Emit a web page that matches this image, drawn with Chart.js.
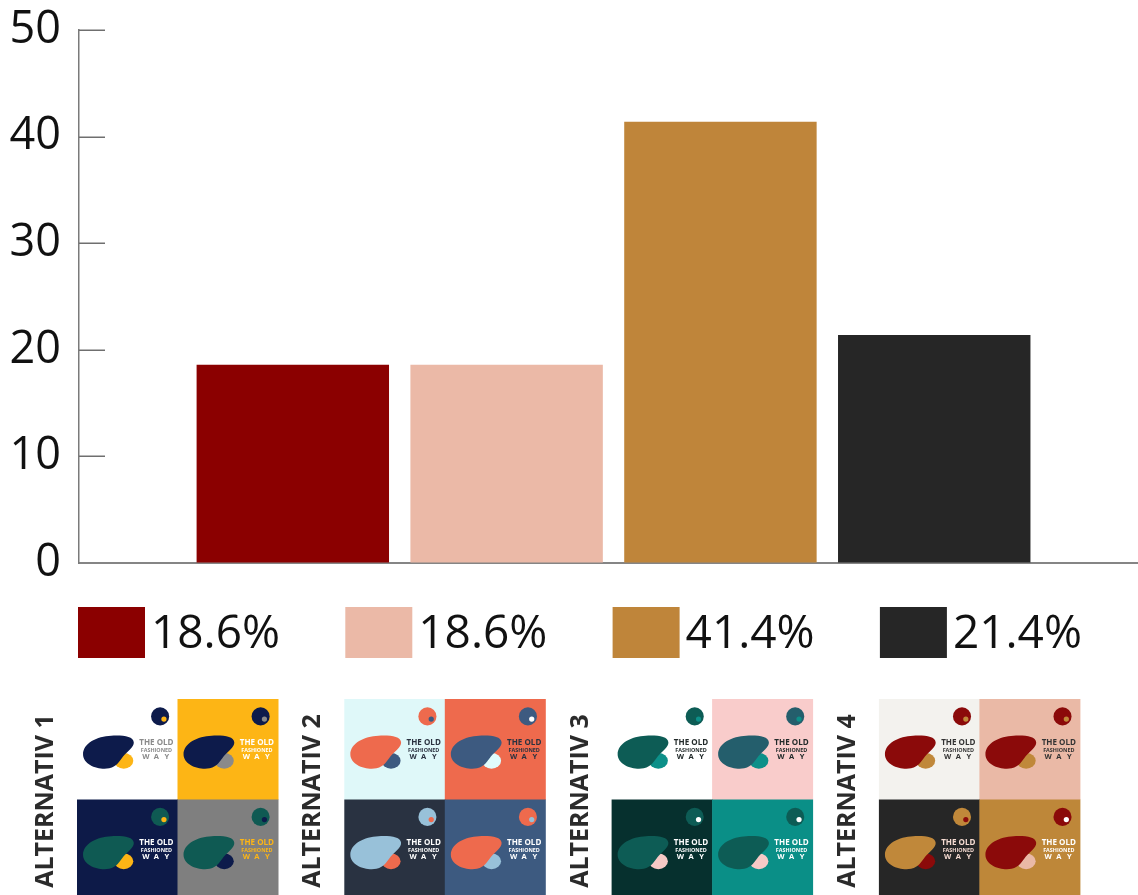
<!DOCTYPE html>
<html>
<head>
<meta charset="utf-8">
<title>Alternativ – fördelning</title>
<script src="https://cdn.jsdelivr.net/npm/chart.js@4.4.1/dist/chart.umd.min.js"></script>
<style>
  html, body { margin: 0; padding: 0; background: #ffffff; }
  #wrap { width: 1138px; height: 895px; position: relative; overflow: hidden; }
  canvas { display: block; }
</style>
</head>
<body>
<div id="wrap"><canvas id="chart" width="1138" height="895"></canvas></div>
<script>
// ---- data ----
const categories = ['ALTERNATIV 1', 'ALTERNATIV 2', 'ALTERNATIV 3', 'ALTERNATIV 4'];
const shares = [18.6, 18.6, 41.4, 21.4];
const barColors = ['#8B0000', '#EBB9A7', '#BF853A', '#262626'];
const yTickValues = [0, 10, 20, 30, 40, 50];
const legendLabels = shares.map(v => v.toFixed(1) + '%');

// colour sets of the four logo variants (top-left, top-right, bottom-left, bottom-right)
const logoAlt1 = [
  { bg: '#FFFFFF', big: '#0D1B4B', small: '#FDB515', ring: '#0D1B4B', dot: '#FDB515', text: '#8A8A8A' },
  { bg: '#FDB515', big: '#0D1B4B', small: '#8A8A8A', ring: '#0D1B4B', dot: '#8A8A8A', text: '#FFFFFF' },
  { bg: '#0D1A48', big: '#0F5A53', small: '#FDB515', ring: '#0F5A53', dot: '#FDB515', text: '#FFFFFF' },
  { bg: '#7F7F7F', big: '#0F5A53', small: '#0D1B4B', ring: '#0F5A53', dot: '#0D1B4B', text: '#FDB515' }
];
const logoAlt2 = [
  { bg: '#DFF8F9', big: '#EE6A4D', small: '#3D5A80', ring: '#EE6A4D', dot: '#3D5A80', text: '#2A3240' },
  { bg: '#EE6A4D', big: '#3D5A80', small: '#E0FBFC', ring: '#3D5A80', dot: '#FFFFFF', text: '#2A3240' },
  { bg: '#293241', big: '#98C1D9', small: '#EE6A4D', ring: '#98C1D9', dot: '#EE6A4D', text: '#FFFFFF' },
  { bg: '#3D5A80', big: '#EE6A4D', small: '#98C1D9', ring: '#EE6A4D', dot: '#98C1D9', text: '#FFFFFF' }
];
const logoAlt3 = [
  { bg: '#FFFFFF', big: '#0D5C55', small: '#0C9089', ring: '#0D5C55', dot: '#0C9089', text: '#222A2A' },
  { bg: '#F9CCCB', big: '#245E6C', small: '#0C9089', ring: '#245E6C', dot: '#0C9089', text: '#222A2A' },
  { bg: '#06302E', big: '#0D5C55', small: '#F6C9C6', ring: '#0D5C55', dot: '#FFFFFF', text: '#FFFFFF' },
  { bg: '#0A8F87', big: '#0D5C55', small: '#F6C9C6', ring: '#0D5C55', dot: '#FFFFFF', text: '#FFFFFF' }
];
const logoAlt4 = [
  { bg: '#F3F2EE', big: '#8B0A0A', small: '#C0883A', ring: '#8B0A0A', dot: '#C0883A', text: '#333333' },
  { bg: '#EAB9A6', big: '#8B0A0A', small: '#C0883A', ring: '#8B0A0A', dot: '#C0883A', text: '#333333' },
  { bg: '#262626', big: '#C0883A', small: '#8B0A0A', ring: '#C0883A', dot: '#8B0A0A', text: '#F6DCD2' },
  { bg: '#BE8739', big: '#8B0A0A', small: '#EAB9A6', ring: '#8B0A0A', dot: '#FFFFFF', text: '#FFFFFF' }
];
const logoSets = [logoAlt1, logoAlt2, logoAlt3, logoAlt4];

// ---- layout constants ----
const FONT = '"Open Sans", "Liberation Sans", sans-serif';
const ROW_X0 = 78;        // left edge of first legend item / logo grid
const ROW_STEP = 267.3;   // distance between items
const LEGEND_TOP = 607;
const GRID_TOP = 699;
const CELL = 100.5;

// short tick marks pointing into the plot area
const innerTicks = {
  id: 'innerTicks',
  afterDatasetsDraw(chart) {
    const { ctx, chartArea, scales } = chart;
    const y = scales.y;
    ctx.save();
    ctx.strokeStyle = '#6f6f6f';
    ctx.lineWidth = 1.5;
    y.ticks.forEach((t, i) => {
      if (t.value === 0) return;
      const py = Math.round(y.getPixelForTick(i)) + 0.25;
      ctx.beginPath();
      ctx.moveTo(chartArea.left, py);
      ctx.lineTo(chartArea.left + 26, py);
      ctx.stroke();
    });
    ctx.restore();
  }
};

// colour boxes with the percentage of each bar
const shareLegend = {
  id: 'shareLegend',
  afterDraw(chart) {
    const { ctx } = chart;
    const ds = chart.data.datasets[0];
    ctx.save();
    ctx.font = '46px ' + FONT;
    ctx.textBaseline = 'middle';
    ctx.textAlign = 'left';
    legendLabels.forEach((label, i) => {
      const x = ROW_X0 + i * ROW_STEP;
      ctx.fillStyle = ds.backgroundColor[i];
      ctx.fillRect(x, LEGEND_TOP, 67, 51);
      ctx.fillStyle = '#111111';
      ctx.fillText(label, x + 73, LEGEND_TOP + 28);
    });
    ctx.restore();
  }
};

function blobPath(ctx, s) {
  ctx.beginPath();
  ctx.moveTo(6 * s, 55 * s);
  ctx.bezierCurveTo(6 * s, 44 * s, 20 * s, 37 * s, 34 * s, 36.5 * s);
  ctx.bezierCurveTo(46 * s, 36 * s, 56 * s, 37 * s, 56.5 * s, 43 * s);
  ctx.bezierCurveTo(57 * s, 48 * s, 50 * s, 52 * s, 46 * s, 57 * s);
  ctx.bezierCurveTo(42 * s, 62 * s, 40 * s, 67 * s, 32 * s, 69 * s);
  ctx.bezierCurveTo(22 * s, 71 * s, 6 * s, 66 * s, 6 * s, 55 * s);
  ctx.closePath();
}

function drawLogoCell(ctx, x, y, size, c) {
  const s = size / 100;
  ctx.save();
  ctx.translate(x, y);
  ctx.fillStyle = c.bg;
  ctx.fillRect(0, 0, size + 0.5, size + 0.5);
  // small shape peeking out below the big one
  ctx.fillStyle = c.small;
  ctx.beginPath();
  ctx.ellipse(46.5 * s, 61.5 * s, 9.5 * s, 7.8 * s, 0, 0, Math.PI * 2);
  ctx.fill();
  // big shape
  ctx.fillStyle = c.big;
  blobPath(ctx, s);
  ctx.fill();
  // ring with dot
  ctx.fillStyle = c.ring;
  ctx.beginPath();
  ctx.arc(82.7 * s, 17.3 * s, 9 * s, 0, Math.PI * 2);
  ctx.fill();
  ctx.fillStyle = c.dot;
  ctx.beginPath();
  ctx.arc(86.5 * s, 20 * s, 2.6 * s, 0, Math.PI * 2);
  ctx.fill();
  // wordmark
  ctx.fillStyle = c.text;
  ctx.textAlign = 'center';
  ctx.textBaseline = 'alphabetic';
  ctx.font = 'bold ' + (8 * s) + 'px ' + FONT;
  ctx.fillText('THE OLD', 79 * s, 45.5 * s);
  ctx.font = 'bold ' + (5.4 * s) + 'px ' + FONT;
  ctx.fillText('FASHIONED', 79 * s, 52.3 * s);
  ctx.font = 'bold ' + (7.5 * s) + 'px ' + FONT;
  ctx.fillText('W', 68.5 * s, 59.5 * s);
  ctx.fillText('A', 79 * s, 59.5 * s);
  ctx.fillText('Y', 89.5 * s, 59.5 * s);
  ctx.restore();
}

// logo variants under the legend, one 2x2 grid per alternative
const logoRow = {
  id: 'logoRow',
  afterDraw(chart) {
    const { ctx } = chart;
    ctx.save();
    categories.forEach((name, i) => {
      const gx = ROW_X0 - 1 + i * ROW_STEP;
      ctx.save();
      ctx.filter = 'blur(0.5px)';
      logoSets[i].forEach((c, k) => {
        const cx = gx + (k % 2) * CELL;
        const cy = GRID_TOP + Math.floor(k / 2) * CELL;
        drawLogoCell(ctx, cx, cy, CELL, c);
      });
      ctx.restore();
      // rotated caption
      ctx.save();
      ctx.translate(gx - 32, 801);
      ctx.rotate(-Math.PI / 2);
      ctx.font = 'bold 25px ' + FONT;
      ctx.fillStyle = '#2B2B2B';
      ctx.textAlign = 'center';
      ctx.textBaseline = 'middle';
      ctx.fillText(name, 0, 1);
      ctx.restore();
    });
    ctx.restore();
  }
};

const ctx = document.getElementById('chart').getContext('2d');
new Chart(ctx, {
  type: 'bar',
  data: {
    datasets: [{
      data: categories.map((c, i) => ({ x: i + 1, y: shares[i] })),
      backgroundColor: barColors,
      borderWidth: 0,
      barPercentage: 0.9,
      categoryPercentage: 1.0
    }]
  },
  options: {
    responsive: false,
    animation: false,
    devicePixelRatio: 1,
    layout: { padding: { top: 30, right: 0, bottom: 332, left: 0 } },
    plugins: { legend: { display: false }, tooltip: { enabled: false } },
    scales: {
      x: {
        type: 'linear',
        offset: false,
        min: 0,
        max: 4.953,
        afterBuildTicks: scale => { scale.ticks = categories.map((c, i) => ({ value: i + 1 })); },
        afterFit: scale => { scale.height = 0; scale.paddingLeft = 0; scale.paddingRight = 0; },
        ticks: { display: false },
        grid: { display: true, offset: false, drawOnChartArea: false, drawTicks: false },
        border: { display: true, color: '#858585', width: 2 }
      },
      y: {
        min: 0,
        max: 50,
        afterBuildTicks: scale => { scale.ticks = yTickValues.map(v => ({ value: v })); },
        afterFit: scale => { scale.width = 79; scale.paddingTop = 0; scale.paddingBottom = 0; },
        ticks: {
          padding: 18,
          color: '#111111',
          font: { family: FONT, size: 45 }
        },
        grid: { display: true, drawOnChartArea: false, drawTicks: false },
        border: { display: true, color: '#7a7a7a', width: 1.5 }
      }
    }
  },
  plugins: [innerTicks, shareLegend, logoRow]
});
</script>
</body>
</html>
